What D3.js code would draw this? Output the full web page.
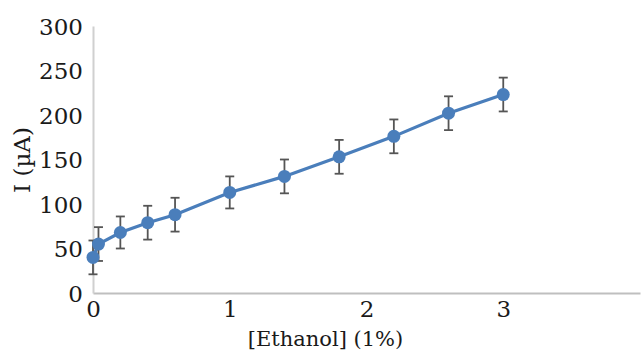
<!DOCTYPE html>
<html>
<head>
<meta charset="utf-8">
<script src="https://cdn.jsdelivr.net/npm/d3@7"></script>
<style>
  body { margin: 0; background: #fff; }
  text { font-family: "DejaVu Serif", serif; fill: #1a1a1a; }
</style>
</head>
<body>
<script>
// chart size
var svgWidth = 643;
var svgHeight = 351;

var margin = { top: 26, right: 3, bottom: 58, left: 93 };
var chartWidth = svgWidth - margin.left - margin.right;
var chartHeight = svgHeight - margin.top - margin.bottom;

// data
var ethanol = [0, 0.04, 0.2, 0.4, 0.6, 1, 1.4, 1.8, 2.2, 2.6, 3];
var current = [40, 55, 68, 79, 88, 113, 131, 153, 176, 202, 223];
var errors = [19, 19, 18, 19, 19, 18, 19, 19, 19, 19, 19];
var xTicks = [0, 1, 2, 3];
var yTicks = [0, 50, 100, 150, 200, 250, 300];

var points = ethanol.map(function(x, i) {
  return { x: x, y: current[i], err: errors[i] };
});

var svg = d3.select("body")
  .append("svg")
  .attr("width", svgWidth)
  .attr("height", svgHeight);

var chartGroup = svg.append("g")
  .attr("transform", `translate(${margin.left}, ${margin.top})`);

var xScale = d3.scaleLinear().domain([0, 4]).range([0, chartWidth]);
var yScale = d3.scaleLinear().domain([0, 300]).range([chartHeight, 0]);

// axes
var bottomAxis = d3.axisBottom(xScale).tickValues(xTicks).tickFormat(d3.format("d"))
  .tickSize(0).tickPadding(8);
var leftAxis = d3.axisLeft(yScale).tickValues(yTicks).tickFormat(d3.format("d"))
  .tickSize(0).tickPadding(10);

var gx = chartGroup.append("g")
  .attr("transform", `translate(0, ${chartHeight})`)
  .call(bottomAxis);
gx.select(".domain").attr("stroke", "#bfbfbf").attr("stroke-width", 2);
gx.selectAll("text").attr("font-size", "23px").attr("fill", "#1a1a1a");

var gy = chartGroup.append("g").call(leftAxis);
gy.select(".domain").attr("stroke", "#d0d0d0").attr("stroke-width", 2);
gy.selectAll("text").attr("font-size", "23px").attr("fill", "#1a1a1a").attr("dy", "0.35em");

// axis titles
svg.append("text")
  .attr("x", margin.left + xScale(1.7))
  .attr("y", 346)
  .style("text-anchor", "middle")
  .attr("font-size", "21px")
  .text("[Ethanol] (1%)");

svg.append("text")
  .attr("transform", "rotate(-90)")
  .attr("x", -160)
  .attr("y", 30)
  .style("text-anchor", "middle")
  .attr("font-size", "23px")
  .text("I (\u00b5A)");

// line
var line = d3.line()
  .x(d => xScale(d.x))
  .y(d => yScale(d.y));

chartGroup.append("path")
  .datum(points)
  .attr("d", line)
  .attr("fill", "none")
  .attr("stroke", "#4a7ebb")
  .attr("stroke-width", 3.2);

// error bars
var errGroup = chartGroup.selectAll(".err")
  .data(points)
  .enter()
  .append("g")
  .attr("class", "err")
  .attr("stroke", "#555")
  .attr("stroke-width", 1.8);

errGroup.append("line")
  .attr("x1", d => xScale(d.x))
  .attr("x2", d => xScale(d.x))
  .attr("y1", d => yScale(d.y + d.err))
  .attr("y2", d => yScale(d.y - d.err));

errGroup.append("line")
  .attr("x1", d => xScale(d.x) - 4.5)
  .attr("x2", d => xScale(d.x) + 4.5)
  .attr("y1", d => yScale(d.y + d.err))
  .attr("y2", d => yScale(d.y + d.err));

errGroup.append("line")
  .attr("x1", d => xScale(d.x) - 4.5)
  .attr("x2", d => xScale(d.x) + 4.5)
  .attr("y1", d => yScale(d.y - d.err))
  .attr("y2", d => yScale(d.y - d.err));

// markers
chartGroup.selectAll(".dot")
  .data(points)
  .enter()
  .append("circle")
  .attr("class", "dot")
  .attr("cx", d => xScale(d.x))
  .attr("cy", d => yScale(d.y))
  .attr("r", 6.5)
  .attr("fill", "#4a7ebb");
</script>
</body>
</html>
